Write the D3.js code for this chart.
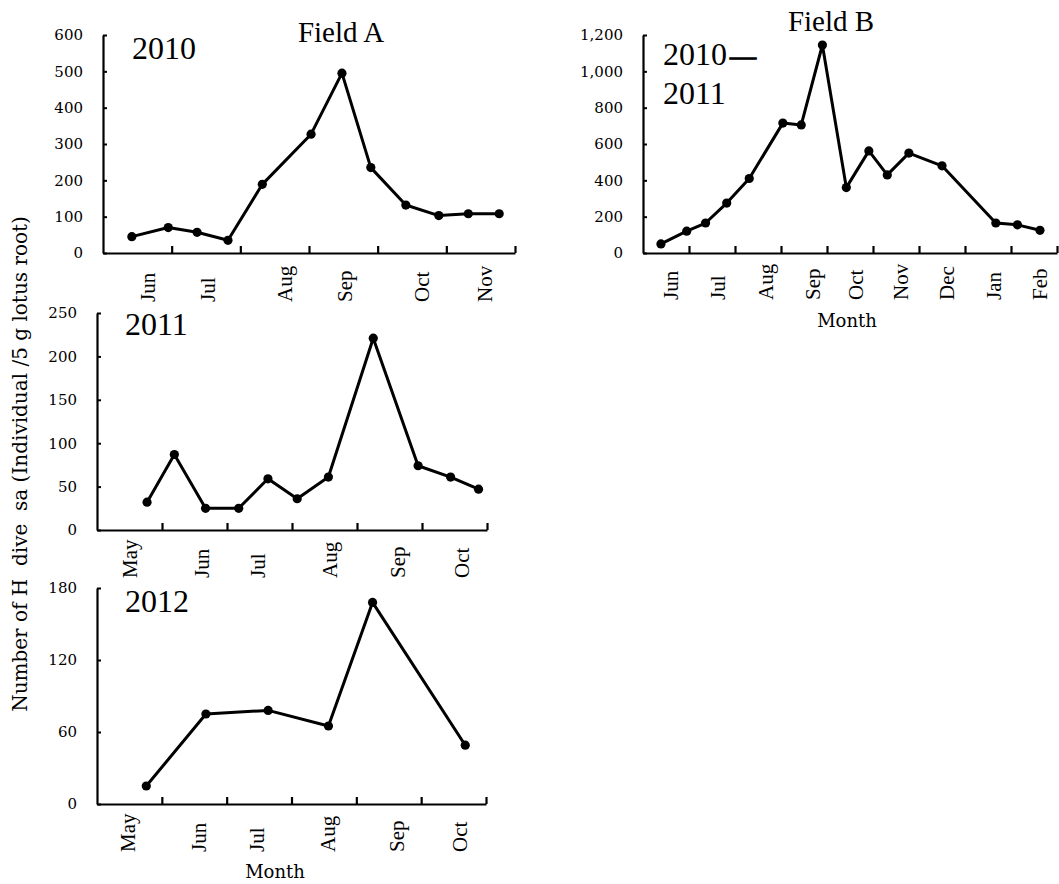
<!DOCTYPE html>
<html>
<head>
<meta charset="utf-8">
<script src="https://cdn.jsdelivr.net/npm/d3@7"></script>
<style>
  html, body { margin: 0; padding: 0; background: #fff; }
  svg { display: block; }
</style>
</head>
<body>
<svg id="chart" width="1059" height="884"></svg>
<script>
// Sampling positions are given in month-interval units along each x axis
// (0 = axis origin, 1 = first tick, ...).

// Field A, 2010
const monthsA2010 = ["Jun", "Jul", "Aug", "Sep", "Oct", "Nov"];
const monthPosA2010 = [0.66, 1.53, 2.65, 3.52, 4.65, 5.56];
const sampleA2010 = [0.42, 0.95, 1.37, 1.82, 2.32, 3.03, 3.48, 3.90, 4.41, 4.89, 5.32, 5.77];
const countA2010 = [45, 70, 57, 35, 189, 327, 495, 235, 132, 103, 108, 108];
const yTicksA2010 = [0, 100, 200, 300, 400, 500, 600];

// Field B, 2010-2011
const monthsB = ["Jun", "Jul", "Aug", "Sep", "Oct", "Nov", "Dec", "Jan", "Feb"];
const monthPosB = [0.62, 1.63, 2.68, 3.69, 4.63, 5.61, 6.62, 7.63, 8.64];
const sampleB = [0.39, 0.95, 1.36, 1.82, 2.31, 3.04, 3.44, 3.90, 4.42, 4.91, 5.31, 5.78, 6.50, 7.67, 8.14, 8.63];
const countB = [50, 120, 165, 275, 410, 715, 705, 1145, 360, 562, 430, 550, 480, 165, 155, 125];
const yTicksB = [0, 200, 400, 600, 800, 1000, 1200];

// Field A, 2011
const monthsA2011 = ["May", "Jun", "Jul", "Aug", "Sep", "Oct"];
const monthPosA2011 = [0.51, 1.61, 2.48, 3.58, 4.63, 5.61];
const sampleA2011 = [0.77, 1.19, 1.67, 2.18, 2.63, 3.08, 3.56, 4.25, 4.94, 5.44, 5.87];
const countA2011 = [32, 87, 25, 25, 59, 36, 61, 221, 74, 61, 47];
const yTicksA2011 = [0, 50, 100, 150, 200, 250];

// Field A, 2012
const monthsA2012 = ["May", "Jun", "Jul", "Aug", "Sep", "Oct"];
const monthPosA2012 = [0.48, 1.58, 2.47, 3.57, 4.63, 5.60];
const sampleA2012 = [0.76, 1.68, 2.64, 3.57, 4.25, 5.68];
const countA2012 = [15, 75, 78, 65, 168, 49];
const yTicksA2012 = [0, 60, 120, 180];

const svg = d3.select("#chart");
const SERIF = "'Liberation Serif', 'Times New Roman', serif";
const TICKFONT = "'DejaVu Serif', serif";

function drawPanel(o) {
  const nInt = o.intervals;
  const x = d3.scaleLinear().domain([0, nInt]).range([o.left, o.right]);
  const y = d3.scaleLinear().domain([0, o.yTicks[o.yTicks.length - 1]]).range([o.bottom, o.top]);
  const g = svg.append("g");

  // x axis: line with short upward ticks at month boundaries
  const xAxis = d3.axisBottom(x)
    .tickValues(d3.range(1, nInt + 1))
    .tickSizeInner(-7)
    .tickSizeOuter(0)
    .tickFormat("");
  const gx = g.append("g").attr("transform", `translate(0,${o.bottom})`).call(xAxis);
  gx.select(".domain").attr("stroke", "#000").attr("stroke-width", 2.2);
  gx.selectAll(".tick line").attr("stroke", "#000").attr("stroke-width", 2.2);

  // y axis: line, short inward ticks and tick labels
  const yAxis = d3.axisLeft(y)
    .tickValues(o.yTicks)
    .tickSizeInner(-4)
    .tickSizeOuter(0)
    .tickPadding(20)
    .tickFormat(o.fmt || d3.format("d"));
  const gy = g.append("g").attr("transform", `translate(${o.left},0)`).call(yAxis);
  gy.select(".domain").attr("stroke", "#000").attr("stroke-width", 2.2);
  gy.selectAll(".tick line").attr("stroke", "#000").attr("stroke-width", 2);
  gy.selectAll(".tick text")
    .attr("x", -20)
    .attr("font-family", TICKFONT)
    .attr("font-size", 15)
    .attr("fill", "#000");

  // rotated month labels
  g.selectAll("text.month")
    .data(o.months)
    .join("text")
    .attr("class", "month")
    .attr("transform", (d, i) => `translate(${x(o.monthPos[i])},${o.labelBottom}) rotate(-90)`)
    .attr("dy", "0.33em")
    .attr("text-anchor", "start")
    .attr("font-family", SERIF)
    .attr("font-size", 21)
    .attr("fill", "#000")
    .text(d => d);

  // series line and markers
  const pts = o.xs.map((v, i) => [v, o.ys[i]]);
  const line = d3.line().x(d => x(d[0])).y(d => y(d[1]));
  g.append("path")
    .datum(pts)
    .attr("d", line)
    .attr("fill", "none")
    .attr("stroke", "#000")
    .attr("stroke-width", 3)
    .attr("stroke-linejoin", "round");
  g.selectAll("circle")
    .data(pts)
    .join("circle")
    .attr("cx", d => x(d[0]))
    .attr("cy", d => y(d[1]))
    .attr("r", 4.6)
    .attr("fill", "#000");

  return g;
}

drawPanel({
  left: 103, right: 515, top: 35, bottom: 253, intervals: 6, labelBottom: 302,
  yTicks: yTicksA2010, months: monthsA2010, monthPos: monthPosA2010,
  xs: sampleA2010, ys: countA2010
});

drawPanel({
  left: 643, right: 1057, top: 35, bottom: 253, intervals: 9, labelBottom: 300,
  yTicks: yTicksB, months: monthsB, monthPos: monthPosB,
  xs: sampleB, ys: countB, fmt: d3.format(",")
});

drawPanel({
  left: 97, right: 487, top: 313, bottom: 530, intervals: 6, labelBottom: 578,
  yTicks: yTicksA2011, months: monthsA2011, monthPos: monthPosA2011,
  xs: sampleA2011, ys: countA2011
});

drawPanel({
  left: 97, right: 486, top: 588, bottom: 804, intervals: 6, labelBottom: 852,
  yTicks: yTicksA2012, months: monthsA2012, monthPos: monthPosA2012,
  xs: sampleA2012, ys: countA2012
});

// titles and year captions
function label(txt, x, y, size, anchor) {
  return svg.append("text")
    .attr("x", x).attr("y", y)
    .attr("font-family", SERIF)
    .attr("font-size", size)
    .attr("text-anchor", anchor || "start")
    .attr("fill", "#000")
    .text(txt);
}
label("Field A", 341, 42, 29, "middle");
label("Field B", 831, 31, 29, "middle");
label("2010", 132, 59, 32);
label("2011", 125, 335, 32);
label("2012", 125, 612, 32);
const yb = label("2010", 663, 65, 32);
yb.append("tspan")
  .attr("dx", 3)
  .attr("font-size", 26)
  .attr("stroke", "#000")
  .attr("stroke-width", 1.3)
  .text("\u2014");
label("2011", 663, 104, 32);

// axis titles
svg.append("text")
  .attr("x", 275).attr("y", 878)
  .attr("text-anchor", "middle")
  .attr("font-family", TICKFONT).attr("font-size", 18)
  .text("Month");
svg.append("text")
  .attr("x", 847).attr("y", 327)
  .attr("text-anchor", "middle")
  .attr("font-family", TICKFONT).attr("font-size", 18)
  .text("Month");
svg.append("text")
  .attr("transform", "translate(27,464) rotate(-90)")
  .attr("text-anchor", "middle")
  .attr("font-family", TICKFONT).attr("font-size", 20)
  .style("white-space", "pre")
  .text("Number of H  dive  sa (Individual /5 g lotus root)");
</script>
</body>
</html>
